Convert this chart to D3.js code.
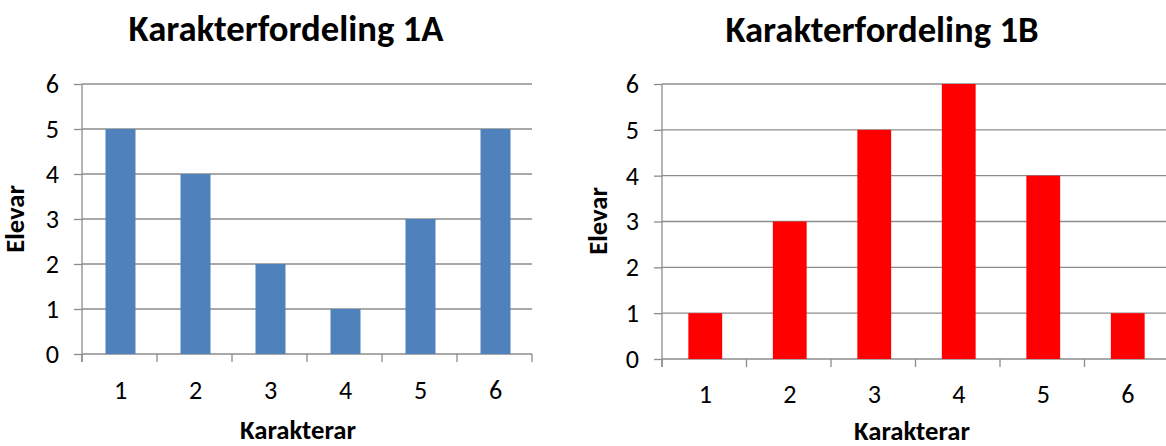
<!DOCTYPE html>
<html>
<head>
<meta charset="utf-8">
<script src="https://cdn.jsdelivr.net/npm/d3@7"></script>
<style>
  html, body { margin: 0; padding: 0; background: #fff; }
  svg { display: block; }
  text { font-family: Carlito, Lato, "Open Sans", sans-serif; fill: #000; }
</style>
</head>
<body>
<svg id="chart" width="1166" height="446"></svg>
<script>
const categories = ["1", "2", "3", "4", "5", "6"];
const values1A = [5, 4, 2, 1, 3, 5];
const values1B = [1, 3, 5, 6, 4, 1];
const yTickValues = [0, 1, 2, 3, 4, 5, 6];
const titles = ["Karakterfordeling 1A", "Karakterfordeling 1B"];
const xTitle = "Karakterar";
const yTitle = "Elevar";

const svg = d3.select("#chart");

// fit a font size so a string reaches a target width
function fitSize(str, weight, target) {
  const t = svg.append("text").attr("font-size", 100).attr("font-weight", weight).text(str);
  const w = t.node().getComputedTextLength();
  t.remove();
  return 100 * target / w;
}
const titleSize = fitSize(titles[0], "bold", 315);
const axisTitleSize = fitSize(xTitle, "bold", 116);
const tickSize = axisTitleSize * 0.98;

const panels = [
  { title: titles[0], values: values1A, color: "#4F81BD",
    x0: 82, x1: 532, yTop: 84, yBot: 354,
    titleX: 286, titleY: 41, xTitleX: 298, xTitleY: 439, yTitleX: 24, yTitleY: 219, xLabY: 390 },
  { title: titles[1], values: values1B, color: "#FF0000",
    x0: 662, x1: 1169, yTop: 84, yBot: 359,
    titleX: 882, titleY: 42, xTitleX: 912, xTitleY: 440, yTitleX: 607, yTitleY: 221, xLabY: 394 }
];

const gridColor = "#8c8c8c";

panels.forEach(p => {
  const g = svg.append("g");
  const x = d3.scaleBand().domain(categories).range([p.x0, p.x1])
    .paddingInner(0.6).paddingOuter(0.3);
  const y = d3.scaleLinear().domain([0, 6]).range([p.yBot, p.yTop]);
  const step = x.step();

  const yAxis = d3.axisLeft(y).tickValues(yTickValues).tickSize(8).tickPadding(15)
    .tickFormat(d3.format("d"));
  const ya = g.append("g").attr("transform", `translate(${p.x0},0)`).call(yAxis);
  ya.attr("font-size", null).attr("font-family", null);
  ya.select(".domain").remove();
  ya.selectAll(".tick line").attr("stroke", gridColor).attr("stroke-width", 1.3);
  ya.selectAll(".tick text").style("font-size", tickSize + "px").attr("fill", "#000");

  g.append("g").selectAll("line").data(yTickValues).join("line")
    .attr("x1", p.x0).attr("x2", p.x1)
    .attr("y1", d => y(d)).attr("y2", d => y(d))
    .attr("stroke", gridColor).attr("stroke-width", 1.3);

  g.append("line").attr("x1", p.x0).attr("x2", p.x0)
    .attr("y1", y(6)).attr("y2", y(0) + 8)
    .attr("stroke", gridColor).attr("stroke-width", 1.3);

  g.append("g").selectAll("rect").data(p.values).join("rect")
    .attr("x", (d, i) => x(categories[i]) + 1)
    .attr("width", x.bandwidth())
    .attr("y", d => y(d))
    .attr("height", d => y(0) - y(d))
    .attr("fill", p.color);

  const bounds = d3.range(categories.length + 1);
  g.append("g").selectAll("line").data(bounds).join("line")
    .attr("x1", i => p.x0 + i * step).attr("x2", i => p.x0 + i * step)
    .attr("y1", y(0)).attr("y2", y(0) + 8)
    .attr("stroke", gridColor).attr("stroke-width", 1.3);

  g.append("g").selectAll("text").data(categories).join("text")
    .attr("x", d => x(d) + x.bandwidth() / 2 + 1)
    .attr("y", p.xLabY)
    .attr("dy", "0.35em")
    .attr("text-anchor", "middle")
    .style("font-size", tickSize + "px")
    .text(d => d);

  g.append("text").attr("x", p.titleX).attr("y", p.titleY)
    .attr("text-anchor", "middle").attr("font-weight", "bold")
    .style("font-size", titleSize + "px").text(p.title);

  g.append("text").attr("x", p.xTitleX).attr("y", p.xTitleY)
    .attr("text-anchor", "middle").attr("font-weight", "bold")
    .style("font-size", axisTitleSize + "px").text(xTitle);

  g.append("text")
    .attr("transform", `translate(${p.yTitleX},${p.yTitleY}) rotate(-90)`)
    .attr("text-anchor", "middle").attr("font-weight", "bold")
    .style("font-size", axisTitleSize + "px").text(yTitle);
});
</script>
</body>
</html>
